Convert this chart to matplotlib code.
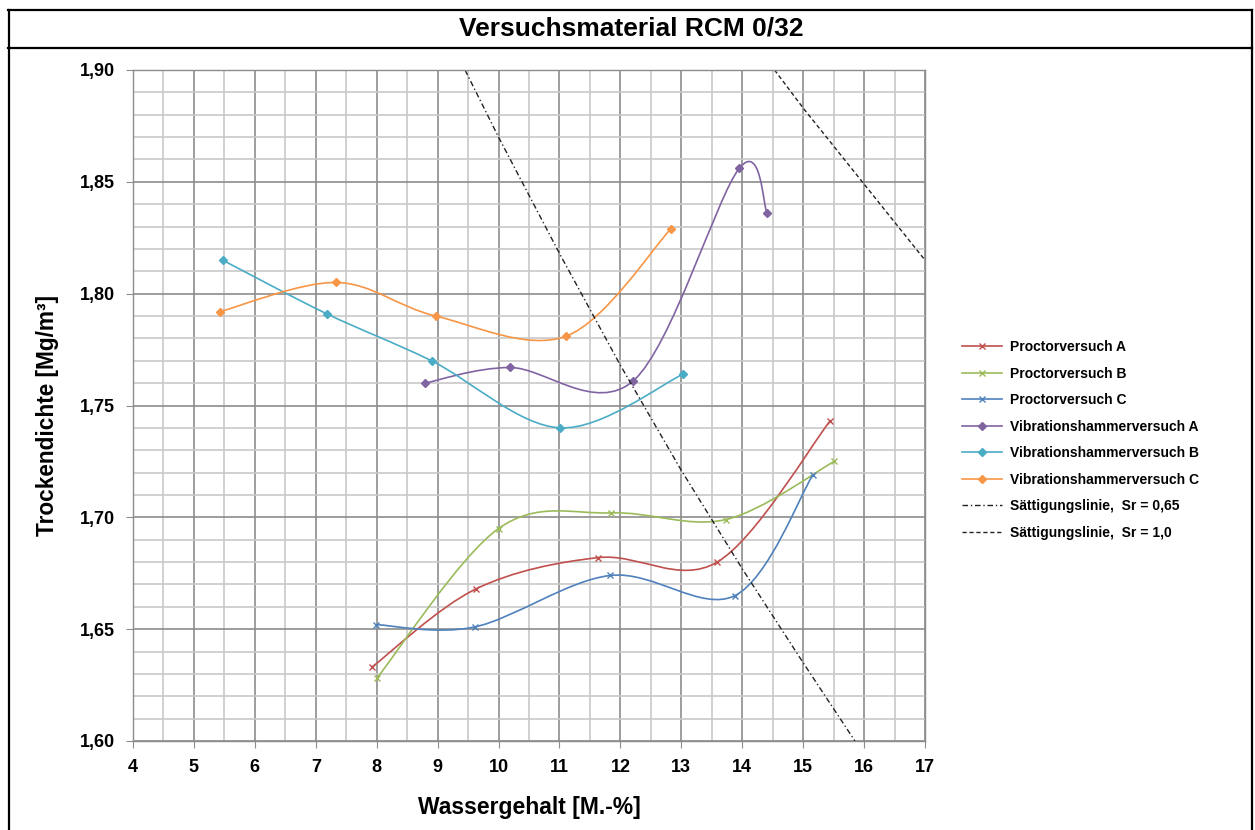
import matplotlib
matplotlib.use("Agg")
import matplotlib.pyplot as plt
from matplotlib.path import Path
from matplotlib.patches import PathPatch
from matplotlib.lines import Line2D
from matplotlib.ticker import MultipleLocator, FuncFormatter

plt.rcParams['font.family'] = ['Liberation Sans', 'DejaVu Sans']

# Messwerte: Wassergehalt [M.-%] / Trockendichte [Mg/m3]
proctor_a_w = [7.92, 9.63, 11.64, 13.59, 15.44]
proctor_a_rho = [1.633, 1.668, 1.682, 1.680, 1.743]
proctor_b_w = [8.00, 10.00, 11.85, 13.73, 15.51]
proctor_b_rho = [1.628, 1.695, 1.702, 1.699, 1.725]
proctor_c_w = [7.99, 9.61, 11.83, 13.88, 15.16]
proctor_c_rho = [1.652, 1.651, 1.674, 1.665, 1.719]
vib_a_w = [8.79, 10.18, 12.21, 13.95, 14.41]
vib_a_rho = [1.760, 1.767, 1.761, 1.856, 1.836]
vib_b_w = [5.47, 7.18, 8.90, 11.01, 13.03]
vib_b_rho = [1.815, 1.791, 1.770, 1.740, 1.764]
vib_c_w = [5.43, 7.34, 8.97, 11.11, 12.83]
vib_c_rho = [1.792, 1.805, 1.790, 1.781, 1.829]

# Saettigungslinien
sr065_w = [9.45, 10, 11, 12, 13, 14, 15, 15.85]
sr065_rho = [1.900, 1.870, 1.818, 1.768, 1.721, 1.677, 1.635, 1.600]
sr100_w = [14.53, 15, 16, 17]
sr100_rho = [1.900, 1.883, 1.849, 1.815]

labels = ['Proctorversuch A', 'Proctorversuch B', 'Proctorversuch C',
          'Vibrationshammerversuch A', 'Vibrationshammerversuch B',
          'Vibrationshammerversuch C']
colors = ['#C0504D', '#9BBB59', '#4F81BD', '#8064A2', '#4BACC6', '#F79646']
series = [(proctor_a_w, proctor_a_rho), (proctor_b_w, proctor_b_rho),
          (proctor_c_w, proctor_c_rho), (vib_a_w, vib_a_rho),
          (vib_b_w, vib_b_rho), (vib_c_w, vib_c_rho)]
markers = ['x', 'x', 'x', 'D', 'D', 'D']


def smooth_path(xs, ys):
    # Bezier-Glaettung wie in Excel (Catmull-Rom)
    pts = list(zip(xs, ys))
    n = len(pts)
    verts = [pts[0]]
    codes = [Path.MOVETO]
    for i in range(n - 1):
        p0 = pts[i - 1] if i > 0 else pts[i]
        p1 = pts[i]
        p2 = pts[i + 1]
        p3 = pts[i + 2] if i + 2 < n else pts[i + 1]
        c1 = (p1[0] + (p2[0] - p0[0]) / 6, p1[1] + (p2[1] - p0[1]) / 6)
        c2 = (p2[0] - (p3[0] - p1[0]) / 6, p2[1] - (p3[1] - p1[1]) / 6)
        verts += [c1, c2, p2]
        codes += [Path.CURVE4] * 3
    return Path(verts, codes)


fig = plt.figure(figsize=(12.55, 8.3), dpi=100)
ax = fig.add_axes([133 / 1255, 1 - 741 / 830, 792 / 1255, 671 / 830])

ax.set_xlim(4, 17)
ax.set_ylim(1.60, 1.90)
ax.xaxis.set_major_locator(MultipleLocator(1))
ax.xaxis.set_minor_locator(MultipleLocator(0.5))
ax.yaxis.set_major_locator(MultipleLocator(0.05))
ax.yaxis.set_minor_locator(MultipleLocator(0.01))
ax.yaxis.set_major_formatter(FuncFormatter(lambda v, p: f"{v:.2f}".replace('.', ',')))
ax.xaxis.set_major_formatter(FuncFormatter(lambda v, p: f"{v:.0f}"))

ax.grid(which='minor', color='#C8C8C8', lw=1.2)
ax.grid(which='major', color='#8C8C8C', lw=1.2)
ax.set_axisbelow(True)
for s in ax.spines.values():
    s.set_color('#8C8C8C')
    s.set_linewidth(1.0)
ax.tick_params(which='major', direction='out', length=5, color='#8C8C8C',
               labelsize=13, pad=8)
ax.tick_params(which='minor', length=0)
for lab in ax.get_xticklabels() + ax.get_yticklabels():
    lab.set_fontweight('bold')

for (xs, ys), c, m in zip(series, colors, markers):
    ax.add_patch(PathPatch(smooth_path(xs, ys), facecolor='none', edgecolor=c, lw=1.2))
    ax.plot(xs, ys, linestyle='none', marker=m, color=c,
            markersize=5 if m == 'x' else 4, mew=1.0)

ax.plot(sr065_w, sr065_rho, color='#222222', lw=1.0, linestyle=(0, (4, 2, 1, 2)))
ax.plot(sr100_w, sr100_rho, color='#222222', lw=1.0, linestyle=(0, (3, 2)))

ax.set_xlabel('Wassergehalt [M.-%]', fontsize=16.5, fontweight='bold')
ax.xaxis.set_label_coords(0.5, -0.082)
ax.set_ylabel('Trockendichte [Mg/m³]', fontsize=16.3, fontweight='bold')
ax.yaxis.set_label_coords(-0.093, 0.485)

handles = []
for c, m in zip(colors, markers):
    handles.append(Line2D([], [], color=c, lw=1.2, marker=m,
                          markersize=5 if m == 'x' else 4, mew=1.0))
handles.append(Line2D([], [], color='#222222', lw=1.0, linestyle=(0, (4, 2, 1, 2))))
handles.append(Line2D([], [], color='#222222', lw=1.0, linestyle=(0, (3, 2))))
leg_labels = labels + ['Sättigungslinie,  Sr = 0,65', 'Sättigungslinie,  Sr = 1,0']
leg = fig.legend(handles, leg_labels, loc='upper left',
                 bbox_to_anchor=(962 / 1255, 1 - 340 / 830), frameon=False,
                 prop={'size': 10, 'weight': 'bold'}, handlelength=2.9,
                 handletextpad=0.55, labelspacing=0.9, borderpad=0,
                 borderaxespad=0)

# Rahmen und Titelfeld
fig.add_artist(Line2D([8 / 1255, 1252 / 1255], [1 - 10 / 830, 1 - 10 / 830],
                      color='black', lw=1.6))
fig.add_artist(Line2D([8 / 1255, 1252 / 1255], [1 - 48 / 830, 1 - 48 / 830],
                      color='black', lw=1.6))
fig.add_artist(Line2D([9 / 1255, 9 / 1255], [0, 1 - 10 / 830], color='black', lw=1.6))
fig.add_artist(Line2D([1252 / 1255, 1252 / 1255], [0, 1 - 10 / 830], color='black', lw=1.6))
fig.text(631 / 1255, 1 - 29 / 830, 'Versuchsmaterial RCM 0/32', ha='center',
         va='center', fontsize=19, fontweight='bold')

fig.savefig('out.png', dpi=100)
